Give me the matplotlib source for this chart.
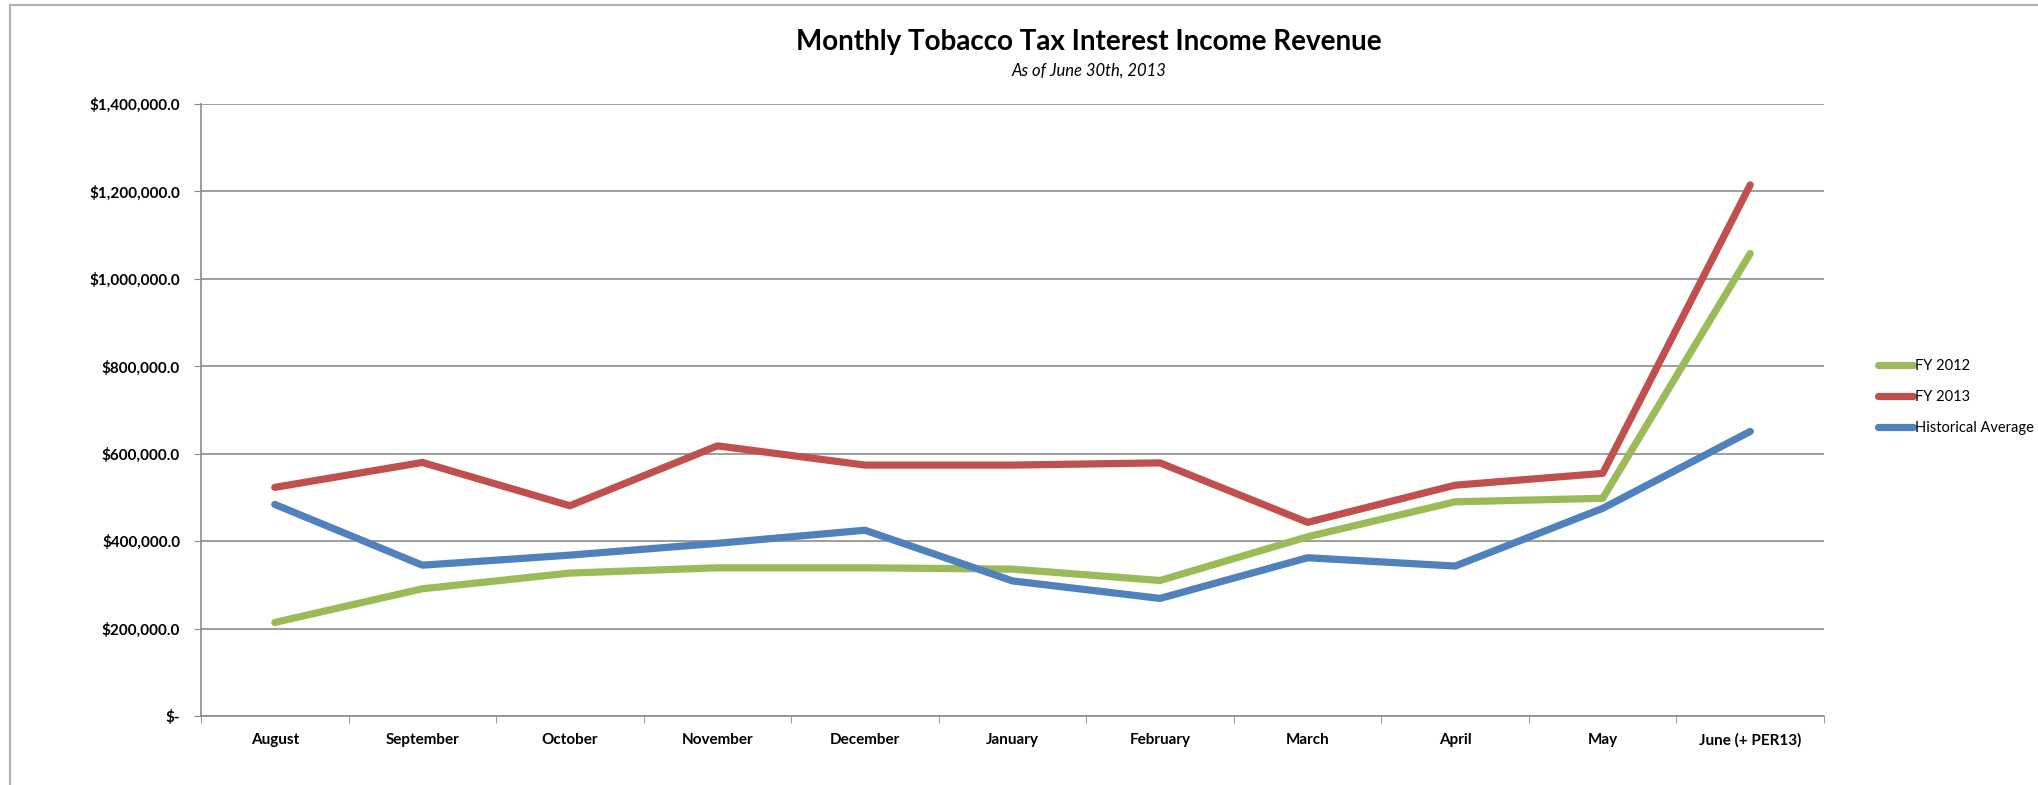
import matplotlib.pyplot as plt
from matplotlib.lines import Line2D
from matplotlib.ticker import FuncFormatter

# --- data ---
months = ["August", "September", "October", "November", "December", "January",
          "February", "March", "April", "May", "June (+ PER13)"]
fy2012 = [214000, 291000, 327000, 339000, 339000, 336000, 310000, 410000, 490000, 498000, 1058000]
fy2013 = [523000, 580000, 481000, 618000, 574000, 574000, 579000, 443000, 528000, 555000, 1215000]
hist_avg = [484000, 345000, 368000, 395000, 425000, 309000, 269000, 362000, 343000, 475000, 651000]
yticks = [0, 200000, 400000, 600000, 800000, 1000000, 1200000, 1400000]

plt.rcParams['font.family'] = ['Lato', 'DejaVu Sans']

fig = plt.figure(figsize=(20.38, 7.85), dpi=100)
ax = fig.add_axes([201/2038, 1 - 716/785, (1824 - 201)/2038, (716 - 104)/785])

x = list(range(len(months)))
ax.plot(x, fy2012, color="#9BBB59", lw=5.2, solid_capstyle="round", solid_joinstyle="round", label="FY 2012")
ax.plot(x, fy2013, color="#C0504D", lw=5.2, solid_capstyle="round", solid_joinstyle="round", label="FY 2013")
ax.plot(x, hist_avg, color="#4F81BD", lw=5.2, solid_capstyle="round", solid_joinstyle="round", label="Historical Average")

ax.set_xlim(-0.5, len(months) - 0.5)
ax.set_ylim(0, 1400000)
ax.set_yticks(yticks)
ax.yaxis.set_major_formatter(FuncFormatter(lambda v, p: "$-" if v == 0 else f"${v:,.1f}"))
ax.set_xticks(x)
ax.set_xticklabels(months)
ax.set_xticks([i - 0.5 for i in range(len(months) + 1)], minor=True)

ax.grid(axis="y", color="#8c8c8c", lw=1.2)
ax.set_axisbelow(True)
for s in ["top", "right"]:
    ax.spines[s].set_visible(False)
for s in ["left", "bottom"]:
    ax.spines[s].set_color("#8c8c8c")
    ax.spines[s].set_linewidth(1.2)

ax.tick_params(axis="x", which="major", length=0, pad=12, labelsize=11)
ax.tick_params(axis="x", which="minor", length=5, color="#8c8c8c")
ax.tick_params(axis="y", length=5, color="#8c8c8c", pad=10, labelsize=11)
for lab in ax.get_xticklabels() + ax.get_yticklabels():
    lab.set_fontweight("bold")

fig.text(1089/2038, 1 - 42/785, "Monthly Tobacco Tax Interest Income Revenue",
         ha="center", va="center", fontsize=20, fontweight="bold")
fig.text(1089/2038, 1 - 71/785, "As of June 30th, 2013",
         ha="center", va="center", fontsize=12, style="italic")

fig.legend(loc="center left", bbox_to_anchor=(1871/2038, 1 - 397/785), frameon=False,
           fontsize=10.5, handlelength=2.4, handletextpad=0.15, labelspacing=1.15, borderpad=0)

# outer chart frame (left and top only visible)
fig.add_artist(Line2D([10/2038, 10/2038], [0, 1 - 5/785], transform=fig.transFigure, color="#b0b0b0", lw=1.5))
fig.add_artist(Line2D([10/2038, 1], [1 - 5/785, 1 - 5/785], transform=fig.transFigure, color="#b0b0b0", lw=1.5))

fig.savefig("out.png", dpi=100)
